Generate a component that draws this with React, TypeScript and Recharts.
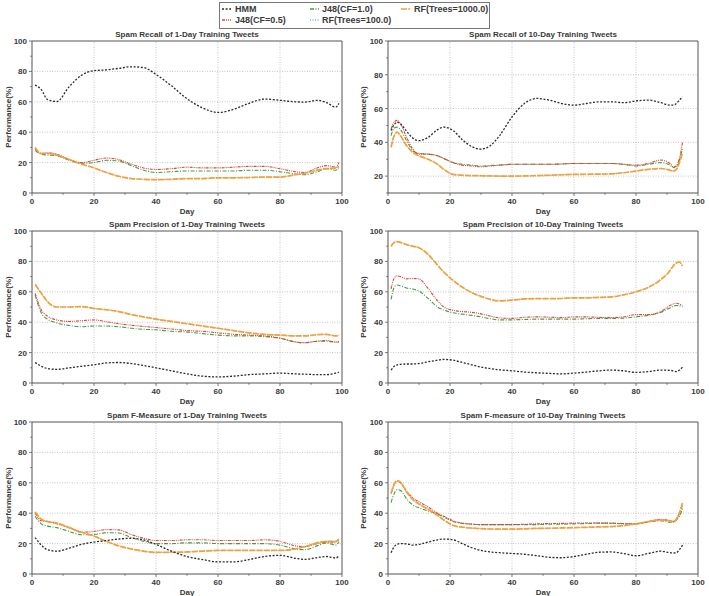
import { LineChart, Line, XAxis, YAxis, ReferenceLine, ReferenceArea } from 'recharts';

// sampled days
const days1 = [1, 3, 5, 8, 12, 16, 20, 24, 28, 32, 36, 40, 45, 50, 55, 60, 65, 70, 75, 80, 85, 88, 92, 95, 98, 99];
const days10 = [1, 2, 3, 4, 6, 8, 10, 13, 16, 18, 21, 24, 27, 30, 33, 36, 40, 44, 48, 52, 56, 60, 64, 68, 72, 76, 80, 84, 88, 91, 92, 93, 94, 95];

// recall, 1-day training
const recall1Hmm = [71, 68, 61.5, 60.2, 70, 77.5, 80.5, 81, 82, 83, 82.5, 78, 70.5, 62, 56, 53, 55, 59, 61.8, 61, 60, 59.8, 61, 59.5, 56.5, 59];
const recall1J48a = [29, 26, 26.5, 25.5, 22, 20, 21.5, 23, 22, 19, 16.5, 15.5, 16, 17, 16.5, 16.5, 17, 17.5, 17.5, 16, 14, 13.5, 16.5, 18, 17, 20];
const recall1J48b = [28, 25.5, 25, 24.5, 21.5, 19.5, 20, 21.5, 21, 18, 15, 13.5, 14, 14.5, 14.5, 14.5, 14.5, 15, 15, 14, 12.5, 12, 14, 16, 15, 16];
const recall1Rf100 = [29.5, 26, 26, 25, 22, 19, 16.5, 13.5, 11, 9.6, 9, 8.9, 9, 9.4, 9.6, 10, 10, 10.2, 10.4, 10.6, 12, 13.2, 15, 16, 16.5, 17.5];
const recall1Rf1000 = [30, 26, 26, 25, 22, 19, 16.5, 13.5, 11, 9.5, 9, 8.8, 9, 9.5, 9.5, 10, 10, 10.2, 10.5, 10.5, 12, 13, 15, 16, 16.5, 17];

// recall, 10-day training
const recall10Hmm = [47, 50.5, 52, 51, 46.5, 42.5, 41, 43, 47.5, 49, 47, 41.5, 37.5, 36, 38, 44, 55, 63, 66, 65, 63, 62, 63, 64, 64, 63.5, 64.5, 65, 63.5, 62, 62, 63, 65, 67];
const recall10J48a = [48, 52, 53, 51, 43, 36, 33, 33, 32, 30.5, 28, 26.5, 26, 25.5, 26, 26.5, 27, 27, 27, 27, 27.2, 27.5, 27.5, 27.5, 27.5, 27, 26.5, 27.5, 29.5, 27.5, 25.5, 26, 30, 40];
const recall10J48b = [44, 48.5, 49, 47.5, 41, 35, 33.5, 33, 32, 30.5, 28, 27, 26.5, 26, 26.3, 26.5, 27, 27, 27, 27, 27.2, 27.5, 27.5, 27.5, 27.5, 27, 26, 27, 28, 26.5, 25, 26, 30, 36];
const recall10Rf100 = [37.5, 44, 46, 44, 38, 34, 32, 30, 27, 24, 21, 20.5, 20.3, 20.2, 20.1, 20, 20, 20.1, 20.3, 20.5, 20.8, 21, 21.1, 21.2, 21.3, 22, 23, 24, 24.5, 23.5, 23, 24, 28, 33];
const recall10Rf1000 = [37, 44, 46, 44, 38, 34, 32, 30, 27, 24, 21, 20.5, 20.3, 20.2, 20.1, 20, 20, 20.1, 20.3, 20.5, 20.8, 21, 21.1, 21.2, 21.3, 22, 23, 24, 24.5, 23.5, 23, 24, 28, 34];

// precision, 1-day training
const prec1Hmm = [13.5, 11, 9.5, 9, 10, 11, 12, 13.2, 13.5, 12.8, 11.5, 10, 8, 6, 4.5, 4, 4.5, 5.5, 6, 6.5, 6, 5.8, 5.5, 5.5, 6.5, 7];
const prec1J48a = [59, 48, 44, 41.5, 40.5, 41, 41.5, 40.3, 39, 38, 37.2, 36.5, 35.5, 34.5, 34, 33, 32, 31.5, 31, 29.5, 27, 26.5, 27.5, 28, 27, 27.5];
const prec1J48b = [58, 46, 42, 39.5, 37.8, 37, 37.5, 37.5, 37, 36, 35.3, 35, 34, 33.5, 32.5, 31.5, 31, 31, 30.5, 29.5, 27, 26.5, 27.5, 27.5, 26.8, 27];
const prec1Rf100 = [64.5, 59, 53.5, 50, 50, 50.2, 49, 48.2, 47, 45, 43.5, 42, 40.5, 39, 37.5, 36, 34.5, 33, 32, 31.5, 31, 31, 31.8, 32, 31, 31.5];
const prec1Rf1000 = [65, 59, 53.5, 50, 50, 50.3, 49, 48.2, 47, 45, 43.5, 42, 40.5, 39, 37.5, 36, 34.5, 33, 32, 31.5, 31, 31, 31.8, 32, 31, 31.5];

// precision, 10-day training
const prec10Hmm = [8.5, 11, 12, 12.3, 12.5, 12.5, 12.8, 14, 15, 15.5, 15, 13.5, 12, 10.5, 9.5, 8.7, 8, 7.2, 6.7, 6.3, 6, 6.5, 7.2, 8, 8.5, 8, 7, 7.5, 8.5, 8.3, 8, 7.5, 8.5, 10.5];
const prec10J48a = [62, 69, 70.5, 70, 68.5, 68.8, 68.5, 62, 54, 50, 47.8, 47, 46.5, 45.5, 44, 42.8, 42.5, 43.2, 43.5, 43.3, 43, 43.5, 43.5, 43.2, 43, 43.5, 45, 45, 47, 51, 52, 52.5, 52, 51];
const prec10J48b = [55, 63, 64.5, 64, 62.5, 61.8, 60.5, 55.5, 50, 48, 46.2, 45.3, 44.5, 43.5, 42.3, 41.5, 41.5, 41.8, 42, 42, 42, 42, 42.3, 42.5, 42.5, 42.7, 43.5, 44.5, 46.5, 49.5, 50.5, 51, 50.8, 50];
const prec10Rf100 = [90, 92.5, 93, 92.5, 91, 90, 89, 84.5, 77.5, 73, 67.5, 63, 59.5, 57, 55, 54, 54.5, 55.3, 55.5, 55.5, 55.6, 56, 56, 56.3, 56.6, 58, 60, 63, 68, 74, 77, 79, 79.5, 77];
const prec10Rf1000 = [90, 92.5, 93, 92.5, 91, 90, 89, 84.5, 77.5, 73, 67.5, 63, 59.5, 57, 55, 54, 54.5, 55.3, 55.5, 55.5, 55.6, 56, 56, 56.3, 56.6, 58, 60, 63, 68, 74, 77, 79, 79.5, 77];

// f-measure, 1-day training
const f1Hmm = [24, 19, 16, 15, 17, 19.5, 21, 22, 23, 23.5, 22.5, 19.5, 15, 11.5, 9.5, 8, 8, 9.5, 11.5, 12.3, 10.3, 9.6, 10.8, 11.5, 10.5, 12];
const f1J48a = [40, 35, 34.5, 33, 30.5, 27.5, 28, 29.2, 29, 26, 23.5, 22, 22, 22.5, 22.5, 22, 22, 22, 22.5, 21.5, 18.5, 18, 20, 21, 21, 22];
const f1J48b = [38, 33, 31.5, 30.5, 28, 25.8, 26, 27.2, 27, 24, 21.5, 20, 20, 20.5, 20.5, 20, 20, 20, 20, 19, 16.5, 16, 18.5, 20.5, 19, 21];
const f1Rf100 = [40.5, 36, 34.5, 33.5, 30.5, 27.5, 25, 21.5, 18.5, 16.5, 15, 14.2, 14.3, 14.5, 15, 15.5, 15.5, 15.5, 15.5, 15.5, 16.5, 18, 20.5, 21.5, 21.5, 22.5];
const f1Rf1000 = [41, 36, 34.5, 33.5, 30.5, 27.5, 25, 21.5, 18.5, 16.5, 15, 14.2, 14.3, 14.5, 15, 15.5, 15.5, 15.5, 15.5, 15.5, 16.5, 18, 20.5, 21.5, 21.5, 23];

// f-measure, 10-day training
const f10Hmm = [14, 18, 19.5, 20, 19.8, 19, 19.5, 21, 22.5, 23, 22.5, 20, 17.3, 15.5, 14.5, 14, 13.5, 13, 12, 11, 10.7, 11.5, 13, 14.3, 14.5, 13.5, 12, 13.5, 15, 14, 13.8, 14, 16, 19];
const f10J48a = [53, 59, 61, 60, 54.5, 50, 47.5, 44, 40, 38, 35, 33.5, 32.8, 32.5, 32.5, 32.5, 32.5, 32.7, 33, 33.2, 33.3, 33.5, 33.6, 33.5, 33.4, 33, 33, 34.5, 36, 35, 34.5, 36, 40, 45];
const f10J48b = [47, 53, 55.5, 55, 49.5, 45.5, 43.5, 41.5, 39.5, 37.5, 34.5, 33.3, 32.8, 32.5, 32.5, 32.5, 32.5, 32.5, 32.5, 32.7, 32.8, 33, 33.2, 33.5, 33.5, 33.2, 33, 34.2, 35, 34, 34, 35.5, 38, 43];
const f10Rf100 = [52.5, 59, 61.5, 60.5, 54, 49, 46, 42.5, 38.5, 35.5, 32, 30.8, 30.2, 29.8, 29.6, 29.5, 29.5, 29.7, 30, 30.1, 30.3, 30.5, 30.7, 31, 31.2, 31.8, 33, 34.5, 35.5, 35, 34.5, 36, 40, 46];
const f10Rf1000 = [53, 59, 61.5, 60.5, 54, 49, 46, 42.5, 38.5, 35.5, 32, 30.8, 30.2, 29.8, 29.6, 29.5, 29.5, 29.7, 30, 30.1, 30.3, 30.5, 30.7, 31, 31.2, 31.8, 33, 34.5, 35.5, 35, 34.5, 36, 40, 47];

const xTicks = [0, 10, 20, 30, 40, 50, 60, 70, 80, 90, 100];
const gridValues = [20, 40, 60, 80];

// draw order: bottom first
const series = [
  { key: 'rf100', name: 'RF(Trees=100.0)', color: '#78aee3', dash: '1 1.5', width: 1 },
  { key: 'j48b', name: 'J48(CF=1.0)', color: '#3f9f45', dash: '4 1.5 1 1.5', width: 1.1 },
  { key: 'j48a', name: 'J48(CF=0.5)', color: '#e3413b', dash: '3 1 1 1 1 1', width: 1.1 },
  { key: 'rf1000', name: 'RF(Trees=1000.0)', color: '#f3a035', dash: '6 1.2', width: 1.7 },
  { key: 'hmm', name: 'HMM', color: '#2b2b2b', dash: '2 1.6', width: 1.3 },
];

const legendOrder = ['hmm', 'j48a', 'j48b', 'rf100', 'rf1000'];

const panels = [
  { title: 'Spam Recall of 1-Day Training Tweets', days: days1, yMin: 0,
    values: { hmm: recall1Hmm, j48a: recall1J48a, j48b: recall1J48b, rf100: recall1Rf100, rf1000: recall1Rf1000 } },
  { title: 'Spam Recall of 10-Day Training Tweets', days: days10, yMin: 10,
    values: { hmm: recall10Hmm, j48a: recall10J48a, j48b: recall10J48b, rf100: recall10Rf100, rf1000: recall10Rf1000 } },
  { title: 'Spam Precision of 1-Day Training Tweets', days: days1, yMin: 0,
    values: { hmm: prec1Hmm, j48a: prec1J48a, j48b: prec1J48b, rf100: prec1Rf100, rf1000: prec1Rf1000 } },
  { title: 'Spam Precision of 10-Day Training Tweets', days: days10, yMin: 0,
    values: { hmm: prec10Hmm, j48a: prec10J48a, j48b: prec10J48b, rf100: prec10Rf100, rf1000: prec10Rf1000 } },
  { title: 'Spam F-Measure of 1-Day Training Tweets', days: days1, yMin: 0,
    values: { hmm: f1Hmm, j48a: f1J48a, j48b: f1J48b, rf100: f1Rf100, rf1000: f1Rf1000 } },
  { title: 'Spam F-measure of 10-Day Training Tweets', days: days10, yMin: 0,
    values: { hmm: f10Hmm, j48a: f10J48a, j48b: f10J48b, rf100: f10Rf100, rf1000: f10Rf1000 } },
];

const FONT = '"Liberation Sans", Arial, Helvetica, sans-serif';
const TEXT = '#3a3a3a';
const AXIS = '#555';
const PLOT_W = 310;
const PLOT_H = 152;
const colX = [32, 388];
const rowY = [41, 231, 422];

function XTick(props: any) {
  const { x, y, payload } = props;
  const major = payload.value % 20 === 0;
  return (
    <g>
      <line x1={x} x2={x} y1={y} y2={y + (major ? 3 : 1.8)} stroke={AXIS} strokeWidth={0.8} />
      {major && (
        <text x={x} y={y + 11} textAnchor="middle" fontSize={8} fontWeight="bold" fontFamily={FONT} fill={TEXT}>
          {payload.value}
        </text>
      )}
    </g>
  );
}

function YTick(props: any) {
  const { x, y, payload } = props;
  const major = payload.value % 20 === 0;
  return (
    <g>
      <line x1={x - (major ? 3 : 1.8)} x2={x} y1={y} y2={y} stroke={AXIS} strokeWidth={0.8} />
      {major && (
        <text x={x - 5} y={y + 3} textAnchor="end" fontSize={8} fontWeight="bold" fontFamily={FONT} fill={TEXT}>
          {payload.value}
        </text>
      )}
    </g>
  );
}

function Panel({ panel, col, row }: { panel: any; col: number; row: number }) {
  const data = panel.days.map((day: number, i: number) => {
    const point: any = { day };
    series.forEach((s) => { point[s.key] = panel.values[s.key][i]; });
    return point;
  });
  const yTicks = xTicks.filter((t) => t >= panel.yMin);
  const left = colX[col] - 32;
  const top = rowY[row] - 14;
  const labelStyle = { fontSize: 8, fontWeight: 'bold', fontFamily: FONT, fill: TEXT };

  return (
    <>
      <div
        style={{
          position: 'absolute', left: colX[col], top: rowY[row] - 11, width: PLOT_W,
          textAlign: 'center', fontSize: 8, lineHeight: '10px', fontWeight: 'bold',
          fontFamily: FONT, color: TEXT, whiteSpace: 'nowrap',
        }}
      >
        {panel.title}
      </div>
      <div style={{ position: 'absolute', left, top }}>
        <LineChart
          width={32 + PLOT_W + 8}
          height={14 + PLOT_H + 15 + 12}
          data={data}
          margin={{ top: 14, right: 8, left: 0, bottom: 12 }}
        >
          <XAxis
            dataKey="day" type="number" domain={[0, 100]} ticks={xTicks} interval={0}
            height={15} tickSize={0} tickMargin={0} tickLine={false} axisLine={false} tick={<XTick />}
            label={{ value: 'Day', position: 'bottom', offset: 0, style: labelStyle }}
          />
          <YAxis
            type="number" domain={[panel.yMin, 100]} ticks={yTicks} interval={0}
            width={32} tickSize={0} tickMargin={0} tickLine={false} axisLine={false} tick={<YTick />}
            label={{
              value: 'Performance(%)', angle: -90, position: 'insideLeft', offset: col === 0 ? 8 : 7,
              style: { ...labelStyle, textAnchor: 'middle' },
            }}
          />
          {gridValues.map((v) => (
            <ReferenceLine key={'gy' + v} y={v} stroke="#b5b5b5" strokeWidth={0.8} strokeDasharray="1 1.5" />
          ))}
          {gridValues.map((v) => (
            <ReferenceLine key={'gx' + v} x={v} stroke="#b5b5b5" strokeWidth={0.8} strokeDasharray="1 1.5" />
          ))}
          <ReferenceArea x1={0} x2={100} y1={panel.yMin} y2={100} fill="none" stroke={AXIS} strokeWidth={1} />
          {series.map((s) => (
            <Line
              key={s.key}
              dataKey={s.key}
              type="monotone"
              stroke={s.color}
              strokeWidth={s.width}
              strokeDasharray={s.dash}
              dot={false}
              activeDot={false}
              isAnimationActive={false}
            />
          ))}
        </LineChart>
      </div>
    </>
  );
}

function Legend() {
  const cols = [
    { marker: 222, text: 235 },
    { marker: 310, text: 322 },
    { marker: 401, text: 414 },
  ];
  return (
    <>
      <div
        style={{
          position: 'absolute', left: 219, top: 2, width: 271, height: 27,
          border: '1px solid #777', boxSizing: 'border-box',
        }}
      />
      {legendOrder.map((key, i) => {
        const s = series.find((d) => d.key === key)!;
        const c = cols[Math.floor(i / 2)];
        const y = i % 2 === 0 ? 8.5 : 19.5;
        return (
          <div key={key}>
            <svg style={{ position: 'absolute', left: c.marker, top: y - 3 }} width={9} height={6}>
              <line x1={0} x2={9} y1={3} y2={3} stroke={s.color} strokeWidth={1.4} strokeDasharray={s.dash} />
            </svg>
            <div
              style={{
                position: 'absolute', left: c.text, top: y - 6, lineHeight: '12px', fontSize: 9,
                fontWeight: 'bold', fontFamily: FONT, color: TEXT, whiteSpace: 'nowrap',
              }}
            >
              {s.name}
            </div>
          </div>
        );
      })}
    </>
  );
}

export default function App() {
  return (
    <div style={{ position: 'absolute', left: 0, top: 0, width: 709, height: 596, background: '#fff', overflow: 'hidden' }}>
      <Legend />
      {panels.map((p, i) => (
        <Panel key={p.title} panel={p} col={i % 2} row={Math.floor(i / 2)} />
      ))}
    </div>
  );
}
